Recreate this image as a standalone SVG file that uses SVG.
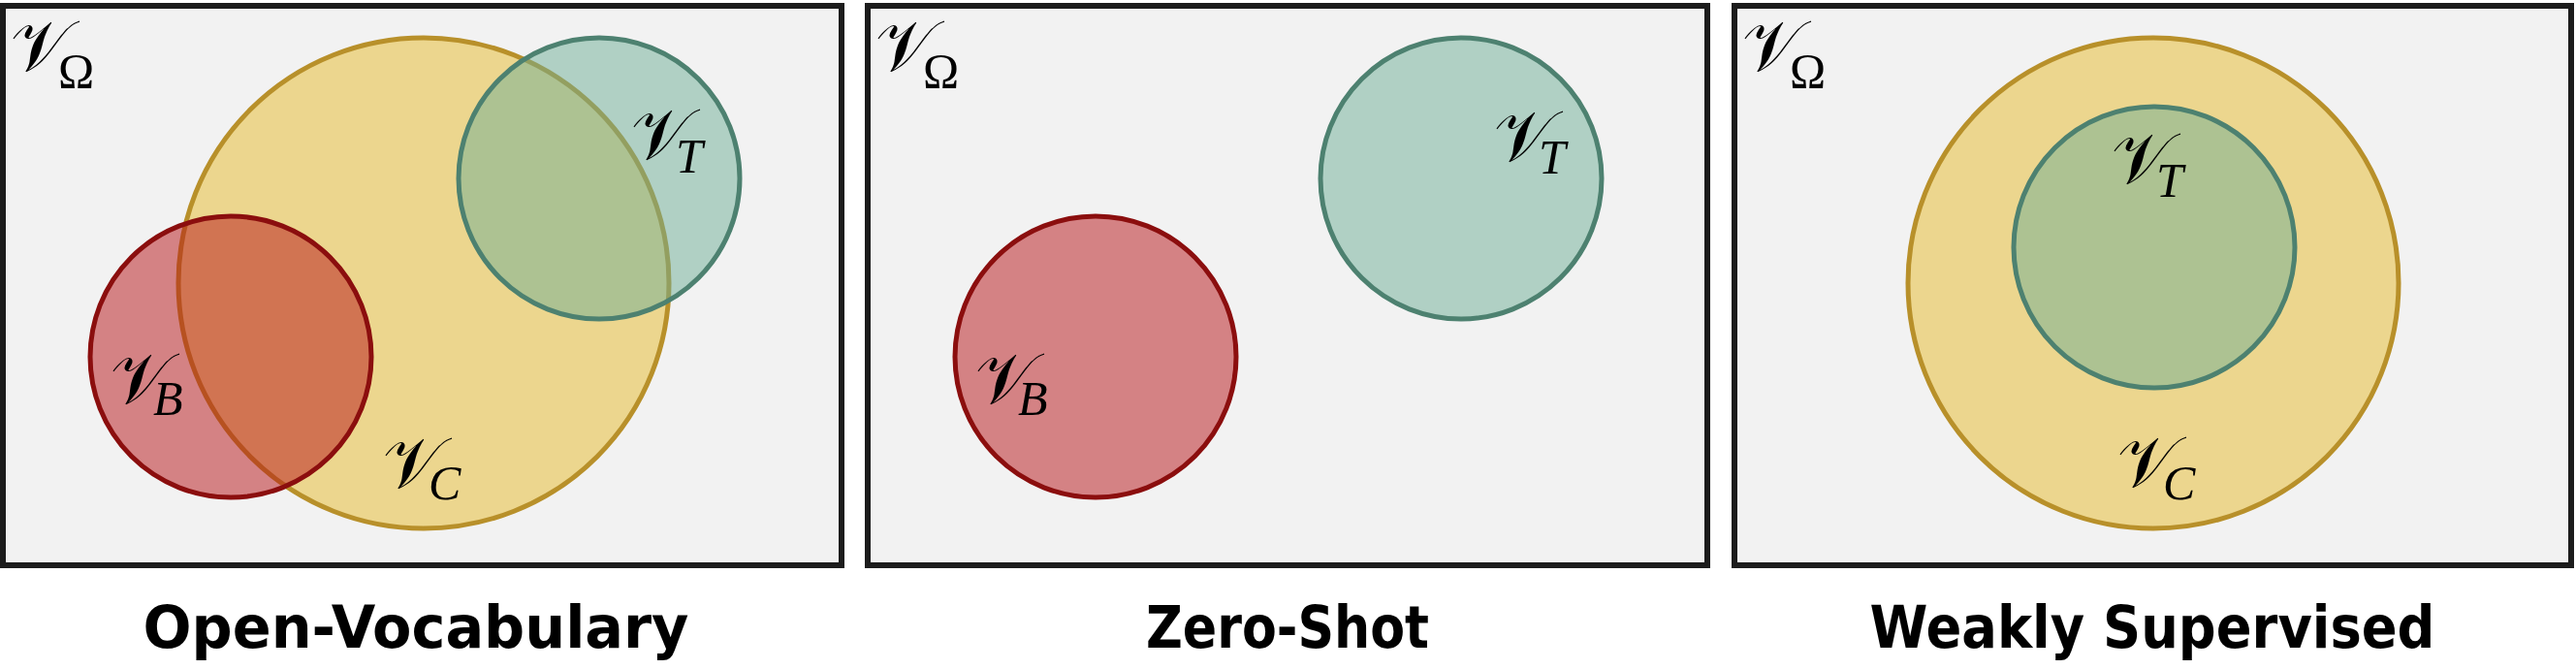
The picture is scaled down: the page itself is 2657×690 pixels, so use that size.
<svg xmlns="http://www.w3.org/2000/svg" width="2657" height="690" viewBox="0 0 2657 690">
<style>
.panel{fill:#f2f2f2;stroke:#1c1c1c;stroke-width:6}
.yel{fill:#e6ba2a;fill-opacity:0.5;stroke:#b8902a;stroke-width:5}
.teal{fill:#6eae96;fill-opacity:0.5;stroke:#4d8170;stroke-width:5}
.red{fill:#b61216;fill-opacity:0.5;stroke:#8b0e0e;stroke-width:5}
.v{font-family:"DejaVu Serif","DejaVu Sans","Noto Sans",serif;font-size:74px;fill:#000}
.sub{font-family:"Liberation Serif","DejaVu Serif",serif;font-style:italic;font-size:50px}
.om{font-family:"Liberation Serif","DejaVu Serif",serif;font-style:normal;font-size:50px}
.title{font-family:"DejaVu Sans","Liberation Sans",sans-serif;font-weight:bold;font-size:60px;fill:#000}
</style>
<rect width="2657" height="690" fill="#ffffff"/>
<g id="panel-open-vocabulary">
<rect class="panel" x="3" y="6" width="865" height="577"/>
<circle class="yel" cx="437" cy="292" r="253"/>
<circle class="red" cx="238" cy="368" r="145"/>
<circle class="teal" cx="618" cy="184" r="145"/>
<text class="v" x="11" y="73">𝒱<tspan class="om" x="60" y="90">Ω</tspan></text>
<text class="v" x="651" y="164">𝒱<tspan class="sub" x="697" y="178">T</tspan></text>
<text class="v" x="114" y="416">𝒱<tspan class="sub" x="158" y="428">B</tspan></text>
<text class="v" x="395" y="503">𝒱<tspan class="sub" x="442" y="515">C</tspan></text>
<text class="title" x="429" y="668" text-anchor="middle" textLength="563" lengthAdjust="spacingAndGlyphs">Open-Vocabulary</text>
</g>
<g id="panel-zero-shot">
<rect class="panel" x="895" y="6" width="866" height="577"/>
<circle class="red" cx="1130" cy="368" r="145"/>
<circle class="teal" cx="1507" cy="184" r="145"/>
<text class="v" x="903" y="73">𝒱<tspan class="om" x="952" y="90">Ω</tspan></text>
<text class="v" x="1541" y="166">𝒱<tspan class="sub" x="1587" y="179">T</tspan></text>
<text class="v" x="1006" y="416">𝒱<tspan class="sub" x="1050" y="428">B</tspan></text>
<text class="title" x="1328" y="668" text-anchor="middle" textLength="292" lengthAdjust="spacingAndGlyphs">Zero-Shot</text>
</g>
<g id="panel-weakly-supervised">
<rect class="panel" x="1789" y="6" width="863" height="577"/>
<circle class="yel" cx="2221" cy="292" r="253"/>
<circle class="teal" cx="2222" cy="255" r="145"/>
<text class="v" x="1797" y="73">𝒱<tspan class="om" x="1846" y="90">Ω</tspan></text>
<text class="v" x="2178" y="189">𝒱<tspan class="sub" x="2224" y="203">T</tspan></text>
<text class="v" x="2184" y="502">𝒱<tspan class="sub" x="2231" y="515">C</tspan></text>
<text class="title" x="2220" y="668" text-anchor="middle" textLength="583" lengthAdjust="spacingAndGlyphs">Weakly Supervised</text>
</g>
<g id="connectors"></g>
</svg>
